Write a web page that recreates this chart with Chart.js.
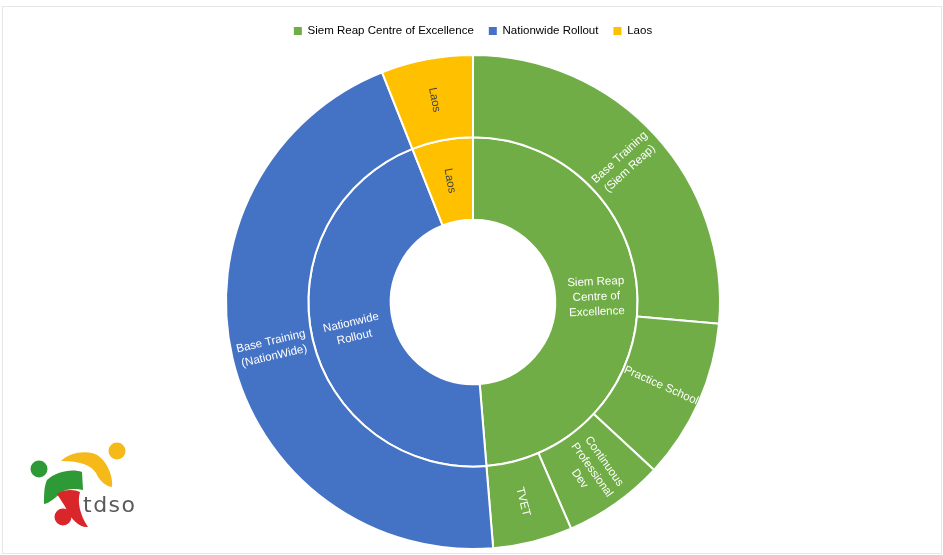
<!DOCTYPE html>
<html>
<head>
<meta charset="utf-8">
<script src="https://cdn.jsdelivr.net/npm/chart.js@4/dist/chart.umd.min.js"></script>
<style>
  html, body { margin: 0; padding: 0; background: #fff; }
  #wrap { position: relative; width: 943px; height: 555px; }
  #frame { position: absolute; left: 2px; top: 6px; width: 938px; height: 546px; border: 1px solid #e6e6e6; }
  #sunburst { position: absolute; left: 0; top: 0; }
</style>
</head>
<body>
<div id="wrap">
  <div id="frame"></div>
  <canvas id="sunburst" width="943" height="555"></canvas>
</div>
<script>
// Programme groups (inner ring)
const groups = ['Siem Reap Centre of Excellence', 'Nationwide Rollout', 'Laos'];
const groupLines = [['Siem Reap', 'Centre of', 'Excellence'], ['Nationwide', 'Rollout'], ['Laos']];
const groupValues = [48.7, 45.3, 6.0];
const groupColors = ['#70AD47', '#4472C4', '#FFC000'];

// Programmes (outer ring), each one belongs to a group
const programmes = ['Base Training (Siem Reap)', 'Practice School', 'Continuous Professional Dev', 'TVET', 'Base Training (NationWide)', 'Laos'];
const programmeLines = [['Base Training', '(Siem Reap)'], ['Practice School'], ['Continuous', 'Professional', 'Dev'], ['TVET'], ['Base Training', '(NationWide)'], ['Laos']];
const programmeValues = [26.4, 10.5, 6.6, 5.2, 45.3, 6.0];
const programmeGroup = [0, 0, 0, 0, 1, 2];

const FONT = 'Liberation Sans, Arial, sans-serif';

// ring labels, rotated along the radius and flipped so they stay readable
const ringLabels = {
  id: 'ringLabels',
  afterDatasetsDraw(chart) {
    const ctx = chart.ctx;
    chart.data.datasets.forEach((ds, di) => {
      const meta = chart.getDatasetMeta(di);
      meta.data.forEach((arc, i) => {
        const p = arc.getProps(['x', 'y', 'startAngle', 'endAngle', 'innerRadius', 'outerRadius'], true);
        const mid = (p.startAngle + p.endAngle) / 2;
        const r = (p.innerRadius + p.outerRadius) / 2;
        let rot = Math.atan2(Math.sin(mid), Math.cos(mid));
        if (rot > Math.PI / 2 + 0.001) rot -= Math.PI;
        if (rot < -Math.PI / 2 - 0.001) rot += Math.PI;
        const lines = ds.textLines[i];
        ctx.save();
        ctx.translate(p.x + Math.cos(mid) * r, p.y + Math.sin(mid) * r);
        ctx.rotate(rot);
        ctx.font = '11.5px ' + FONT;
        ctx.fillStyle = ds.backgroundColor[i] === '#FFC000' ? '#404040' : '#ffffff';
        ctx.textAlign = 'center';
        ctx.textBaseline = 'middle';
        const lh = 15;
        lines.forEach((t, k) => ctx.fillText(t, 0, (k - (lines.length - 1) / 2) * lh));
        ctx.restore();
      });
    });
  }
};

// extra room between legend and rings
const legendGap = {
  id: 'legendGap',
  beforeInit(chart) {
    const fit = chart.legend.fit;
    chart.legend.fit = function () {
      fit.call(this);
      this.height += 7.25;
    };
  }
};

// tdso logo in the lower left corner
const logo = {
  id: 'logo',
  afterDraw(chart) {
    const ctx = chart.ctx;
    ctx.save();
    const dot = (x, y, r, c) => { ctx.fillStyle = c; ctx.beginPath(); ctx.arc(x, y, r, 0, Math.PI * 2); ctx.fill(); };

    // yellow figure
    ctx.fillStyle = '#F5B919';
    ctx.beginPath();
    ctx.moveTo(61, 461);
    ctx.bezierCurveTo(70, 452, 90, 449, 100, 457);
    ctx.bezierCurveTo(109, 465, 113, 478, 112, 487);
    ctx.bezierCurveTo(105, 486, 99, 480, 96, 473);
    ctx.bezierCurveTo(91, 465, 80, 461, 61, 461);
    ctx.closePath();
    ctx.fill();
    dot(117, 451, 8.5, '#F5B919');

    // green figure
    ctx.fillStyle = '#2E9A35';
    ctx.beginPath();
    ctx.moveTo(47, 480);
    ctx.bezierCurveTo(55, 472, 72, 468, 82, 472);
    ctx.lineTo(83, 490);
    ctx.bezierCurveTo(75, 488, 66, 489, 62, 492);
    ctx.bezierCurveTo(56, 497, 50, 503, 44, 504);
    ctx.bezierCurveTo(44, 496, 44, 486, 47, 480);
    ctx.closePath();
    ctx.fill();
    dot(39, 469, 8.5, '#2E9A35');

    // red figure
    ctx.fillStyle = '#D9262A';
    ctx.beginPath();
    ctx.moveTo(57, 494);
    ctx.bezierCurveTo(64, 489, 74, 489, 80, 492);
    ctx.bezierCurveTo(77, 502, 80, 515, 88, 527);
    ctx.bezierCurveTo(80, 528, 72, 520, 68, 512);
    ctx.bezierCurveTo(64, 504, 60, 499, 57, 494);
    ctx.closePath();
    ctx.fill();
    dot(63, 517, 8.5, '#D9262A');

    ctx.fillStyle = '#5a5a5a';
    ctx.font = '22px DejaVu Sans, sans-serif';
    ctx.letterSpacing = '1.5px';
    ctx.textAlign = 'left';
    ctx.textBaseline = 'alphabetic';
    ctx.fillText('tdso', 83, 512);
    ctx.restore();
  }
};

new Chart(document.getElementById('sunburst'), {
  type: 'doughnut',
  data: {
    labels: programmes,
    datasets: [
      {
        label: 'Programme',
        data: programmeValues,
        backgroundColor: programmeGroup.map(g => groupColors[g]),
        textLines: programmeLines,
        borderColor: '#ffffff',
        borderWidth: 2
      },
      {
        label: 'Group',
        data: groupValues,
        backgroundColor: groupColors,
        textLines: groupLines,
        borderColor: '#ffffff',
        borderWidth: 2
      }
    ]
  },
  options: {
    responsive: false,
    animation: false,
    cutout: '33.3%',
    layout: { padding: { top: 10.25, bottom: 5, left: 3, right: 0 } },
    plugins: {
      tooltip: { enabled: false },
      legend: {
        position: 'top',
        labels: {
          boxWidth: 8,
          boxHeight: 8,
          padding: 15,
          color: '#595959',
          font: { family: FONT, size: 11.5 },
          generateLabels: () => groups.map((g, i) => ({
            text: g,
            fillStyle: groupColors[i],
            strokeStyle: groupColors[i],
            lineWidth: 0,
            hidden: false,
            index: i
          }))
        }
      }
    }
  },
  plugins: [ringLabels, legendGap, logo]
});
</script>
</body>
</html>
